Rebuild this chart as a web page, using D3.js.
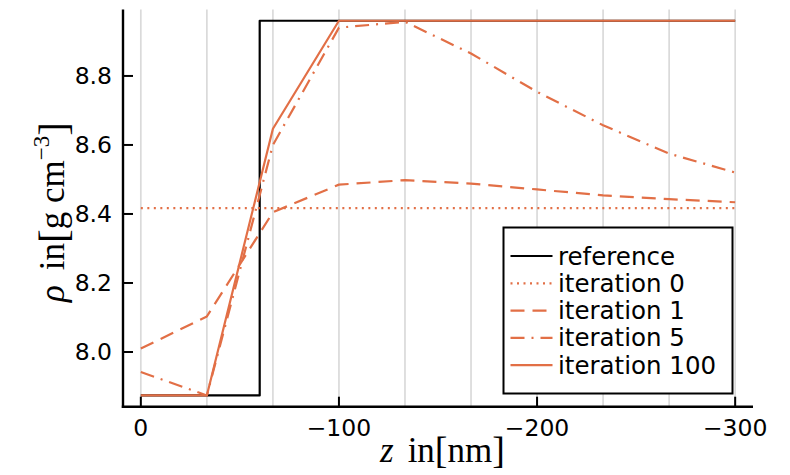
<!DOCTYPE html>
<html>
<head>
<meta charset="utf-8">
<script src="https://cdn.jsdelivr.net/npm/d3@7"></script>
<style>
  html, body { margin: 0; padding: 0; background: #fff; }
  svg { display: block; }
  .tick-label { font-family: "DejaVu Sans", sans-serif; font-size: 23.5px; fill: #000; }
  .legend-label { font-family: "DejaVu Sans", sans-serif; font-size: 24.5px; fill: #000; }
  .axis-title { font-family: "Liberation Serif", "DejaVu Serif", serif; font-size: 35px; fill: #000; }
</style>
</head>
<body>
<svg id="chart" width="790" height="475"></svg>
<script>
// Depth grid (nm) on which the density profiles are sampled
const zNodes = [0, -33.33, -66.67, -100, -133.33, -166.67, -200, -233.33, -266.67, -300];

// Reference profile: Fe layer on top of Cu
const refZ = [0, -60, -60, -300];
const refRho = [7.874, 7.874, 8.96, 8.96];

// Reconstructed densities (g cm^-3) per iteration
const iter0 = [8.417, 8.417, 8.417, 8.417, 8.417, 8.417, 8.417, 8.417, 8.417, 8.417];
const iter1 = [8.010, 8.103, 8.405, 8.485, 8.498, 8.488, 8.471, 8.454, 8.443, 8.434];
const iter5 = [7.942, 7.874, 8.600, 8.940, 8.957, 8.865, 8.754, 8.657, 8.575, 8.520];
const iter100 = [7.874, 7.874, 8.647, 8.960, 8.960, 8.960, 8.960, 8.960, 8.960, 8.960];

const xTicks = [0, -100, -200, -300];
const yTicks = [8.0, 8.2, 8.4, 8.6, 8.8];
const seriesNames = ["reference", "iteration 0", "iteration 1", "iteration 5", "iteration 100"];

const orange = "#e26f46";
const styles = [
  { color: "#000", dash: null },
  { color: orange, dash: "2,4.5" },
  { color: orange, dash: "14,8" },
  { color: orange, dash: "14,7,2,7" },
  { color: orange, dash: null }
];

const svg = d3.select("#chart");
const plotLeft = 123, plotRight = 753, plotTop = 9.5, plotBottom = 406.7;

const x = d3.scaleLinear().domain([9, -309]).range([plotLeft, plotRight]);
const y = d3.scaleLinear().domain([7.8414, 8.9926]).range([plotBottom, plotTop]);

// Vertical grid at every sampling node
svg.append("g").selectAll("line").data(zNodes).join("line")
  .attr("x1", d => x(d)).attr("x2", d => x(d))
  .attr("y1", plotTop).attr("y2", plotBottom)
  .attr("stroke", "#dadada").attr("stroke-width", 1.7);

const line = d3.line().x(d => x(d[0])).y(d => y(d[1]));

const seriesData = [
  refZ.map((z, i) => [z, refRho[i]]),
  zNodes.map((z, i) => [z, iter0[i]]),
  zNodes.map((z, i) => [z, iter1[i]]),
  zNodes.map((z, i) => [z, iter5[i]]),
  zNodes.map((z, i) => [z, iter100[i]])
];

const lines = svg.append("g");
seriesData.forEach((d, i) => {
  lines.append("path")
    .attr("d", line(d))
    .attr("fill", "none")
    .attr("stroke", styles[i].color)
    .attr("stroke-width", 2.2)
    .attr("stroke-dasharray", styles[i].dash)
    .attr("stroke-linejoin", "round");
});

// Axes: spines with inward ticks
const axes = svg.append("g");
axes.append("line").attr("x1", plotLeft).attr("x2", plotLeft).attr("y1", plotTop).attr("y2", plotBottom + 1.2)
  .attr("stroke", "#000").attr("stroke-width", 2.4);
axes.append("line").attr("x1", plotLeft - 1.2).attr("x2", plotRight).attr("y1", plotBottom).attr("y2", plotBottom)
  .attr("stroke", "#000").attr("stroke-width", 2.4);

axes.selectAll(".xt").data(xTicks).join("line")
  .attr("x1", d => x(d)).attr("x2", d => x(d))
  .attr("y1", plotBottom).attr("y2", plotBottom - 10)
  .attr("stroke", "#000").attr("stroke-width", 2);
axes.selectAll(".yt").data(yTicks).join("line")
  .attr("x1", plotLeft).attr("x2", plotLeft + 10)
  .attr("y1", d => y(d)).attr("y2", d => y(d))
  .attr("stroke", "#000").attr("stroke-width", 2);

const fmtX = d3.format("d");
axes.selectAll(".xl").data(xTicks).join("text")
  .attr("class", "tick-label")
  .attr("x", d => x(d)).attr("y", 436)
  .attr("text-anchor", "middle")
  .text(d => fmtX(d));
axes.selectAll(".yl").data(yTicks).join("text")
  .attr("class", "tick-label")
  .attr("x", 112).attr("y", d => y(d) + 8.5)
  .attr("text-anchor", "end")
  .text(d => d3.format(".1f")(d));

// Axis titles
const xt = svg.append("text").attr("class", "axis-title")
  .attr("x", 380).attr("y", 462);
xt.append("tspan").attr("font-style", "italic").text("z");
xt.append("tspan").attr("dx", 14).text("in");
xt.append("tspan").attr("font-size", 38).attr("dy", 1).text("[");
xt.append("tspan").attr("dy", -1).text("nm");
xt.append("tspan").attr("font-size", 38).attr("dy", 1).text("]");

const yt = svg.append("text").attr("class", "axis-title")
  .attr("transform", "translate(64,302) rotate(-90)");
yt.append("tspan").attr("font-style", "italic").text("ρ");
yt.append("tspan").attr("dx", 15).text("in");
yt.append("tspan").attr("font-size", 41).attr("dy", 3).text("[");
yt.append("tspan").attr("dy", -3).text("g cm");
yt.append("tspan").attr("font-size", 23).attr("dy", -15).text("−3");
yt.append("tspan").attr("font-size", 41).attr("dy", 18).text("]");

// Legend
const lg = svg.append("g");
lg.append("rect").attr("x", 503.5).attr("y", 227.5).attr("width", 229).attr("height", 166)
  .attr("fill", "#fff").attr("stroke", "#000").attr("stroke-width", 2);
seriesNames.forEach((name, i) => {
  const cy = 256 + i * 27.3;
  lg.append("line").attr("x1", 510.5).attr("x2", 552.5).attr("y1", cy).attr("y2", cy)
    .attr("stroke", styles[i].color).attr("stroke-width", 2.2)
    .attr("stroke-dasharray", styles[i].dash);
  lg.append("text").attr("class", "legend-label")
    .attr("x", 558).attr("y", cy + 8.5).text(name);
});
</script>
</body>
</html>
